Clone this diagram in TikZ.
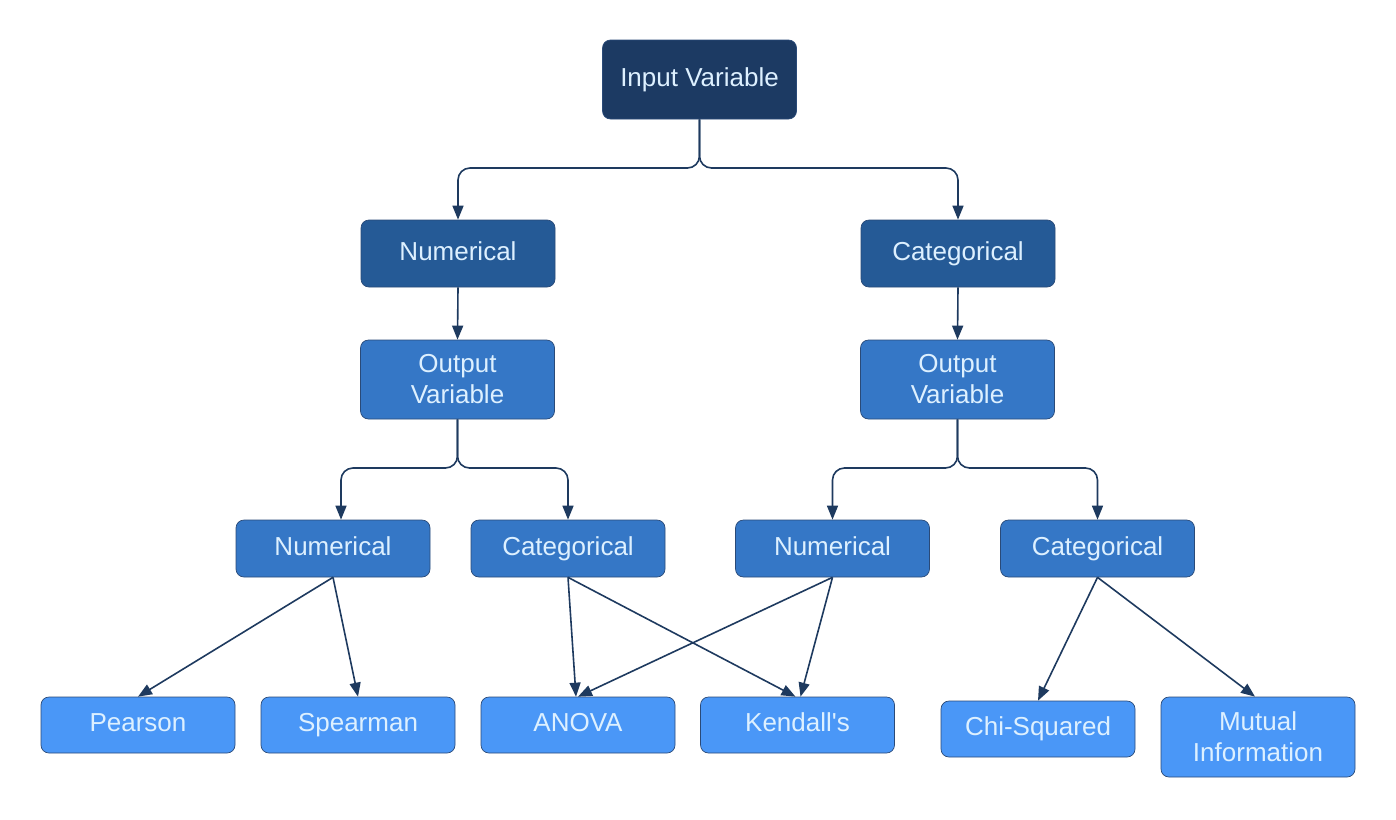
\documentclass[tikz,border=0pt]{standalone}
\usepackage{fontspec}
\setmainfont{Liberation Sans}
\usetikzlibrary{arrows.meta}
\definecolor{cInput}{HTML}{1C3A63}
\definecolor{cLevTwo}{HTML}{255A96}
\definecolor{cLevThree}{HTML}{3577C6}
\definecolor{cLeaf}{HTML}{4A97F7}
\definecolor{cLine}{HTML}{1E3A5F}
\definecolor{cText}{HTML}{DDF0FF}
\definecolor{cEdge}{HTML}{2A4A78}
\tikzset{
  box/.style={rounded corners=8pt, minimum width=194pt, inner sep=0pt, text=cText,
    font=\fontsize{26}{31}\selectfont, align=center, draw=cEdge, line width=0.7pt},
  oneline/.style={text height=18pt, text depth=5pt},
  inputbox/.style={box, oneline, fill=cInput, minimum height=79pt},
  levtwo/.style={box, oneline, fill=cLevTwo, minimum height=67pt},
  outbox/.style={box, fill=cLevThree, minimum height=79pt},
  levfour/.style={box, oneline, fill=cLevThree, minimum height=57pt},
  leaf/.style={box, fill=cLeaf, minimum height=56pt},
  leafone/.style={leaf, oneline},
  conn/.style={draw=cLine, line width=1.6pt, -{Triangle[length=14pt,width=11pt]}},
}
\begin{document}
\begin{tikzpicture}[x=1pt,y=-1pt]
\useasboundingbox (0,0) rectangle (1396,819);
\node[inputbox] (in) at (699.5,79.5) {Input Variable};
\node[levtwo] (numA) at (458,253.5) {Numerical};
\node[levtwo] (catA) at (958,253.5) {Categorical};
\node[outbox] (outL) at (457.5,379.5) {Output\\Variable};
\node[outbox] (outR) at (957.5,379.5) {Output\\Variable};
\node[levfour] (numL) at (333,548.5) {Numerical};
\node[levfour] (catL) at (568,548.5) {Categorical};
\node[levfour] (numR) at (832.5,548.5) {Numerical};
\node[levfour] (catR) at (1097.5,548.5) {Categorical};
\node[leafone] (pear) at (138,725) {Pearson};
\node[leafone] (spear) at (358,725) {Spearman};
\node[leafone] (anova) at (578,725) {ANOVA};
\node[leafone] (kend) at (797.5,725) {Kendall\textquotesingle s};
\node[leafone] (chi) at (1038,729) {Chi-Squared};
\node[leaf, minimum height=80pt] (mut) at (1258,737) {Mutual\\Information};

\coordinate (jA) at (699.5,168);
\draw[conn, rounded corners=12pt] (in.south) |- (numA.north |- jA) -- (numA.north);
\draw[conn, rounded corners=12pt] (in.south) |- (catA.north |- jA) -- (catA.north);
\draw[conn] (numA.south) -- (outL.north);
\draw[conn] (catA.south) -- (outR.north);
\coordinate (jL) at (457.5,468);
\coordinate (jR) at (957.5,468);
\draw[conn, rounded corners=12pt] (outL.south) |- ([xshift=8pt]numL.north |- jL) -- ([xshift=8pt]numL.north);
\draw[conn, rounded corners=12pt] (outL.south) |- (catL.north |- jL) -- (catL.north);
\draw[conn, rounded corners=12pt] (outR.south) |- (numR.north |- jR) -- (numR.north);
\draw[conn, rounded corners=12pt] (outR.south) |- (catR.north |- jR) -- (catR.north);

\draw[conn] (numL.south) -- (pear.north);
\draw[conn] (numL.south) -- (spear.north);
\draw[conn] (catL.south) -- ([xshift=-2pt]anova.north);
\draw[conn] (catL.south) -- ([xshift=-2pt]kend.north);
\draw[conn] (numR.south) -- (anova.north);
\draw[conn] (numR.south) -- ([xshift=3pt]kend.north);
\draw[conn] (catR.south) -- (chi.north);
\draw[conn] (catR.south) -- ([xshift=-3pt]mut.north);
\end{tikzpicture}
\end{document}
